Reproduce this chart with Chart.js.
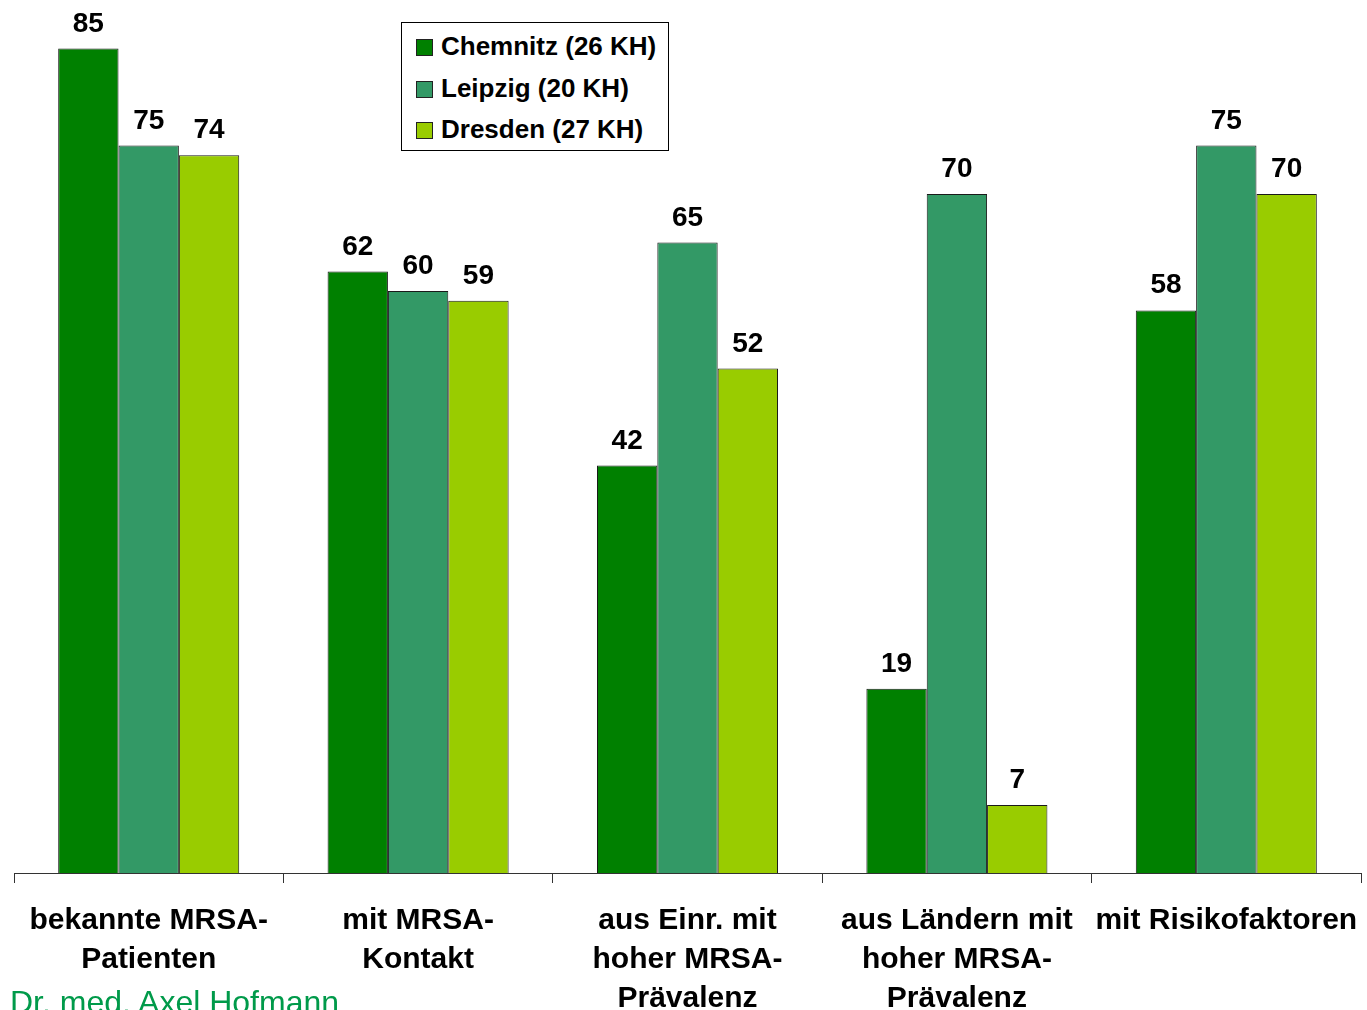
<!DOCTYPE html>
<html>
<head>
<meta charset="utf-8">
<script src="https://cdn.jsdelivr.net/npm/chart.js@4/dist/chart.umd.min.js"></script>
<style>
  html, body { margin: 0; padding: 0; background: #fff; overflow: hidden; }
  #wrap { position: relative; width: 1367px; height: 1036px; }
  #legend {
    position: absolute; left: 401px; top: 22px; width: 266px; height: 127px;
    border: 1px solid #000; background: #fff;
    font: bold 26px "Liberation Sans", Arial, sans-serif; color: #000;
  }
  #legend .item { position: absolute; left: 14px; height: 30px; line-height: 30px; white-space: nowrap; }
  #legend .box { display: inline-block; width: 15px; height: 15px; border: 1px solid #222; margin-right: 8px; vertical-align: -1px; }
  #autor {
    position: absolute; left: 10px; top: 986px;
    font: 32px/1 "Liberation Sans", Arial, sans-serif; color: #009A4A;
  }
</style>
</head>
<body>
<div id="wrap">
  <canvas id="chart"></canvas>
  <div id="legend"></div>
  <div id="autor">Dr. med. Axel Hofmann</div>
</div>
<script>
const kategorien = [
  ['bekannte MRSA-', 'Patienten'],
  ['mit MRSA-', 'Kontakt'],
  ['aus Einr. mit', 'hoher MRSA-', 'Prävalenz'],
  ['aus Ländern mit', 'hoher MRSA-', 'Prävalenz'],
  ['mit Risikofaktoren']
];
const staedte = ['Chemnitz (26 KH)', 'Leipzig (20 KH)', 'Dresden (27 KH)'];
const chemnitz = [85, 62, 42, 19, 58];
const leipzig = [75, 60, 65, 70, 75];
const dresden = [74, 59, 52, 7, 70];
const farben = ['#008000', '#339966', '#99CC00'];

const schrift = '"Liberation Sans", Arial, sans-serif';

// Zahlen über den Balken
const werteLabels = {
  id: 'werteLabels',
  afterDatasetsDraw(chart) {
    const ctx = chart.ctx;
    ctx.save();
    ctx.font = 'bold 28px ' + schrift;
    ctx.fillStyle = '#000';
    ctx.textAlign = 'center';
    ctx.textBaseline = 'alphabetic';
    chart.data.datasets.forEach((ds, i) => {
      chart.getDatasetMeta(i).data.forEach((bar, j) => {
        ctx.fillText(String(ds.data[j]), bar.x, bar.y - 17);
      });
    });
    ctx.restore();
  }
};

const reihen = [chemnitz, leipzig, dresden];

new Chart(document.getElementById('chart'), {
  type: 'bar',
  data: {
    labels: kategorien,
    datasets: reihen.map((werte, i) => ({
      label: staedte[i],
      data: werte,
      backgroundColor: farben[i],
      borderColor: '#1a1a1a',
      borderWidth: 1,
      categoryPercentage: 0.672,
      barPercentage: 1
    }))
  },
  options: {
    responsive: true,
    maintainAspectRatio: false,
    animation: false,
    layout: { padding: { left: 14, right: 6, top: 0, bottom: 0 } },
    plugins: {
      legend: { display: false },
      tooltip: { enabled: false }
    },
    scales: {
      x: {
        // breite Beschriftungen sollen die Achse nicht verkürzen
        afterFit(scale) {
          scale.paddingLeft = 0;
          scale.paddingRight = 0;
        },
        grid: {
          display: true,
          drawOnChartArea: false,
          drawTicks: true,
          offset: true,
          tickLength: 10,
          color: '#333'
        },
        border: { display: true, color: '#333', width: 1 },
        ticks: {
          color: '#000',
          padding: 18,
          maxRotation: 0,
          autoSkip: false,
          font: { family: schrift, size: 30, weight: 'bold', lineHeight: 1.3 }
        }
      },
      y: {
        display: false,
        min: 0,
        max: 90
      }
    }
  },
  plugins: [werteLabels]
});

// Legende
const legende = document.getElementById('legend');
staedte.forEach((name, i) => {
  const el = document.createElement('div');
  el.className = 'item';
  el.style.top = (8 + i * 41.5) + 'px';
  el.innerHTML = '<span class="box" style="background:' + farben[i] + '"></span>' + name;
  legende.appendChild(el);
});
</script>
</body>
</html>
